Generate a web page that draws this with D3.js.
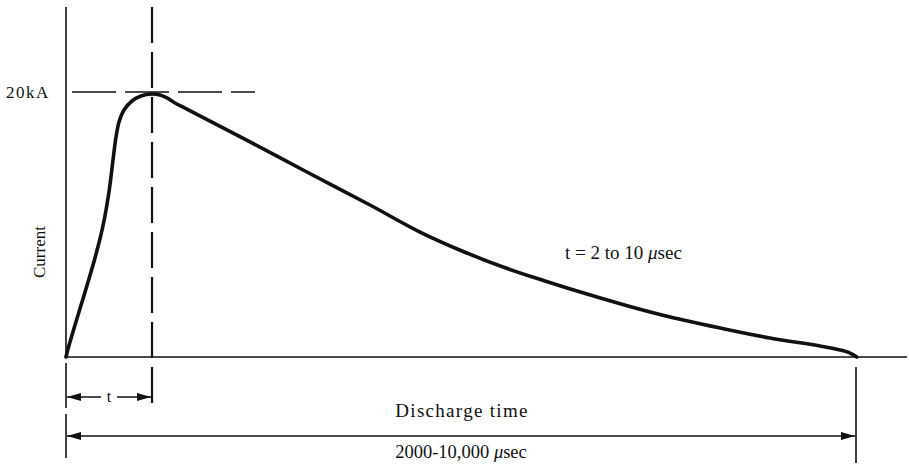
<!DOCTYPE html>
<html><head><meta charset="utf-8">
<script src="https://cdn.jsdelivr.net/npm/d3@7"></script>
<style>body{margin:0;background:#fff}svg{display:block}</style>
</head><body>
<script>
// Data (time in arbitrary units, 0..100 = full discharge; current in kA)
const timeValues = [0,0.25,1.14,2.41,3.67,4.68,5.44,5.95,6.33,6.71,7.34,8.35,9.49,10.89,11.90,12.78,13.80,15.06,23.29,30.25,38.48,44.81,50.13,55.32,60.63,65.95,71.14,76.46,82.78,89.11,95.44,97.97,99.24,100.1];
const currentValues = [0,0.60,2.42,4.91,7.47,9.89,12.45,14.87,16.60,17.74,18.64,19.32,19.70,19.85,19.77,19.55,19.17,18.79,16.23,14.04,11.47,9.43,8.00,6.79,5.74,4.75,3.85,3.02,2.19,1.43,0.83,0.53,0.30,0];
const peakTime = 10.89;
const peakLabel = "20kA";
const peakValue = 20;
const yLabel = "Current";
const riseLabel = "t";
const dischargeLabel = "Discharge time";

const W = 909, H = 464;
const x = d3.scaleLinear().domain([0,100]).range([66,856]);
const y = d3.scaleLinear().domain([0,20]).range([357,92]);
const svg = d3.select("body").append("svg").attr("width",W).attr("height",H);
const serif = "'Liberation Serif','Times New Roman',serif";

const defs = svg.append("defs");
["s","e"].forEach(k=>{
  defs.append("marker").attr("id","arr"+k).attr("viewBox","0 0 14 10")
    .attr("refX", k==="e"?14:0).attr("refY",5).attr("markerWidth",14).attr("markerHeight",10)
    .attr("markerUnits","userSpaceOnUse").attr("orient","auto")
    .append("path").attr("d", k==="e" ? "M0,1 L14,5 L0,9 Z" : "M14,1 L0,5 L14,9 Z").attr("fill","#111");
});

const x0 = x(0), xp = x(peakTime), xe = x(100), y0 = y(0);
// axes
svg.append("line").attr("x1",x0).attr("x2",x0).attr("y1",7).attr("y2",y0).attr("stroke","#111").attr("stroke-width",1.6);
svg.append("line").attr("x1",x0).attr("x2",907).attr("y1",y0).attr("y2",y0).attr("stroke","#111").attr("stroke-width",1.6);
// dashed reference lines
svg.append("line").attr("x1",72).attr("x2",255).attr("y1",y(peakValue)).attr("y2",y(peakValue))
  .attr("stroke","#111").attr("stroke-width",1.5).attr("stroke-dasharray","44,9");
svg.append("line").attr("x1",xp).attr("x2",xp).attr("y1",7).attr("y2",409)
  .attr("stroke","#111").attr("stroke-width",2.2).attr("stroke-dasharray","36,9");
// curve
const line = d3.line().x((d,i)=>x(timeValues[i])).y((d,i)=>y(currentValues[i])).curve(d3.curveCatmullRom.alpha(0.5));
svg.append("path").datum(currentValues).attr("d",line).attr("fill","none").attr("stroke","#111")
  .attr("stroke-width",3.6).attr("stroke-linejoin","round").attr("stroke-linecap","round");

// dimension ticks
svg.append("line").attr("x1",x0).attr("x2",x0).attr("y1",363).attr("y2",408).attr("stroke","#111").attr("stroke-width",1.6);
svg.append("line").attr("x1",x0).attr("x2",x0).attr("y1",414).attr("y2",458).attr("stroke","#111").attr("stroke-width",1.6);
svg.append("line").attr("x1",xe).attr("x2",xe).attr("y1",367).attr("y2",463).attr("stroke","#111").attr("stroke-width",1.6);
// rise arrow
const ty = 397;
svg.append("line").attr("x1",x0+1).attr("x2",(x0+xp)/2-8).attr("y1",ty).attr("y2",ty).attr("stroke","#111").attr("stroke-width",1.5).attr("marker-start","url(#arrs)");
svg.append("line").attr("x1",(x0+xp)/2+8).attr("x2",xp-1).attr("y1",ty).attr("y2",ty).attr("stroke","#111").attr("stroke-width",1.5).attr("marker-end","url(#arre)");
svg.append("text").attr("x",(x0+xp)/2).attr("y",ty+5).attr("text-anchor","middle").attr("font-family",serif).attr("font-size",16).attr("fill","#111").text(riseLabel);
// discharge arrow
const dy = 436;
svg.append("line").attr("x1",x0+1).attr("x2",xe-1).attr("y1",dy).attr("y2",dy).attr("stroke","#111").attr("stroke-width",1.5)
  .attr("marker-start","url(#arrs)").attr("marker-end","url(#arre)");

// texts
svg.append("text").attr("x",6).attr("y",y(peakValue)+6).attr("font-family",serif).attr("font-size",17).attr("letter-spacing",1.5).attr("fill","#111").text(peakLabel);
svg.append("text").attr("transform","translate(45,252) rotate(-90)").attr("text-anchor","middle").attr("font-family",serif).attr("font-size",17).attr("fill","#111").text(yLabel);
const note = svg.append("text").attr("x",565).attr("y",259).attr("font-family",serif).attr("font-size",19).attr("fill","#111");
note.append("tspan").text("t = 2 to 10 ");
note.append("tspan").attr("font-style","italic").text("\u03bc");
note.append("tspan").text("sec");
svg.append("text").attr("x",462).attr("y",417).attr("text-anchor","middle").attr("font-family",serif).attr("font-size",19).attr("letter-spacing",1.3).attr("fill","#111").text(dischargeLabel);
const dr = svg.append("text").attr("x",461).attr("y",458).attr("text-anchor","middle").attr("font-family",serif).attr("font-size",18.5).attr("fill","#111");
dr.append("tspan").text("2000-10,000 ");
dr.append("tspan").attr("font-style","italic").text("\u03bc");
dr.append("tspan").text("sec");
</script>
</body></html>
